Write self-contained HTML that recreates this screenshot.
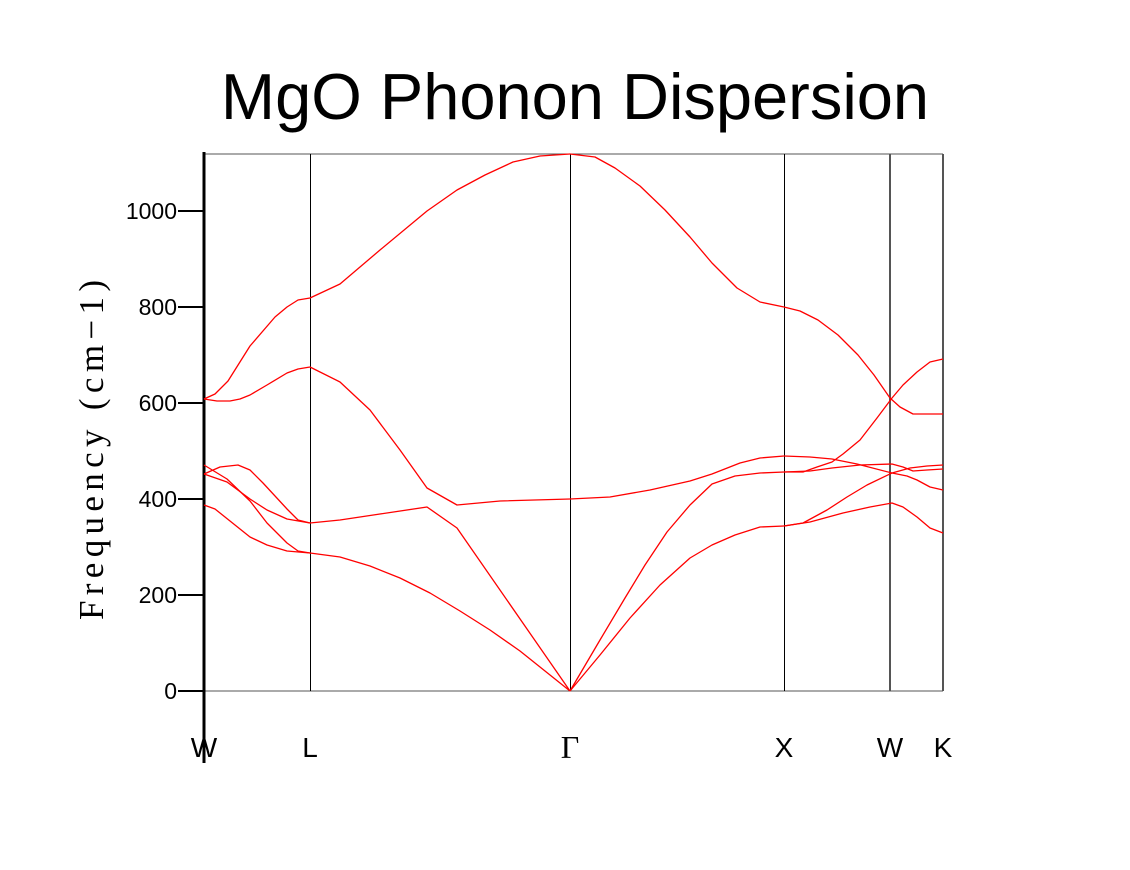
<!DOCTYPE html>
<html><head><style>html,body{margin:0;padding:0;background:#fff}</style></head>
<body>
<svg width="1130" height="865" viewBox="0 0 1130 865" xmlns="http://www.w3.org/2000/svg">
<rect width="1130" height="865" fill="#fff"/>
<text x="575" y="119" font-family="Liberation Sans, sans-serif" font-size="65" text-anchor="middle">MgO Phonon Dispersion</text>
<text transform="translate(103,450) rotate(-90)" font-family="Liberation Serif, serif" font-size="35" text-anchor="middle" textLength="340" lengthAdjust="spacing">Frequency (cm−1)</text>
<g fill="none" stroke-width="1">
<line x1="204" y1="154" x2="943" y2="154" stroke="#555"/>
<line x1="204" y1="691" x2="943" y2="691" stroke="#555"/>
<line x1="943" y1="154" x2="943" y2="691" stroke="#555" stroke-width="2"/>
<line x1="890" y1="154" x2="890" y2="691" stroke="#555" stroke-width="2"/>
<line x1="310.5" y1="154" x2="310.5" y2="691" stroke="#000"/>
<line x1="570.5" y1="154" x2="570.5" y2="691" stroke="#000"/>
<line x1="784.5" y1="154" x2="784.5" y2="691" stroke="#000"/>
<line x1="204" y1="152" x2="204" y2="763" stroke="#000" stroke-width="3"/>
<g stroke="#000" stroke-width="2">
<line x1="178" y1="211" x2="204" y2="211"/><line x1="178" y1="307" x2="204" y2="307"/>
<line x1="178" y1="403" x2="204" y2="403"/><line x1="178" y1="499" x2="204" y2="499"/>
<line x1="178" y1="595" x2="204" y2="595"/><line x1="178" y1="691" x2="204" y2="691"/>
</g>
</g>
<g font-family="Liberation Sans, sans-serif" font-size="23" text-anchor="end">
<text x="177" y="219">1000</text><text x="177" y="315">800</text><text x="177" y="411">600</text>
<text x="177" y="507">400</text><text x="177" y="603">200</text><text x="177" y="699">0</text>
</g>
<g font-family="Liberation Sans, sans-serif" font-size="28" text-anchor="middle">
<text x="204" y="757">W</text><text x="310" y="757">L</text><text x="570" y="758" font-family="Liberation Serif, serif" font-size="32">Γ</text>
<text x="784" y="757">X</text><text x="890" y="757">W</text><text x="943" y="757">K</text>
</g>
<g fill="none" stroke="#f00" stroke-width="1.3" stroke-linejoin="round">
<polyline points="204,399 215,394 228,381 250,346 275,317 287,307 298,300 310,298"/>
<polyline points="204,399 217,401 230,401 240,399 250,395 267,385 287,373 298,369 310,367"/>
<polyline points="204,465 227,479 250,501 267,523 287,543 298,551 310,553"/>
<polyline points="204,474 220,467 238,465 250,470 263,483 287,509 298,520 310,523"/>
<polyline points="204,474 227,482 250,499 267,510 287,519 310,523"/>
<polyline points="204,505 215,509 250,537 267,545 287,551 310,553"/>
<polyline points="310,298 340,284 380,250 427,211 457,190 485,175 513,162 540,156 570,154"/>
<polyline points="310,367 340,382 370,410 400,450 427,488 457,505 500,501 570,499"/>
<polyline points="310,523 340,520 380,514 427,507 457,528 570,691"/>
<polyline points="310,553 340,557 370,566 400,578 430,593 460,611 490,630 520,651 570,691"/>
<polyline points="570,154 595,157 615,168 640,186 665,210 690,237 712,263 737,288 760,302 784,307"/>
<polyline points="570,499 610,497 650,490 690,481 712,474 740,463 760,458 784,456"/>
<polyline points="570,691 600,640 625,598 645,565 667,532 690,505 712,484 735,476 760,473 784,472"/>
<polyline points="570,691 600,655 630,618 660,585 690,558 712,545 735,535 760,527 784,526"/>
<polyline points="784,307 800,311 818,320 838,335 858,355 874,375 890,398 900,407 913,414 943,414"/>
<polyline points="784,472 803,472 817,467 832,462 843,454 860,440 877,418 892,398 903,385 917,372 930,362 943,359"/>
<polyline points="784,472 810,471 832,468 860,465 892,464 903,467 913,471 927,470 943,469"/>
<polyline points="784,456 810,457 832,459 857,464 892,473 907,476 917,480 930,487 943,490"/>
<polyline points="784,526 803,523 827,510 847,497 867,485 892,473 910,468 927,466 943,465"/>
<polyline points="784,526 810,522 843,513 870,507 892,503 903,507 917,517 930,528 943,533"/>
</g>
</svg>
</body></html>
